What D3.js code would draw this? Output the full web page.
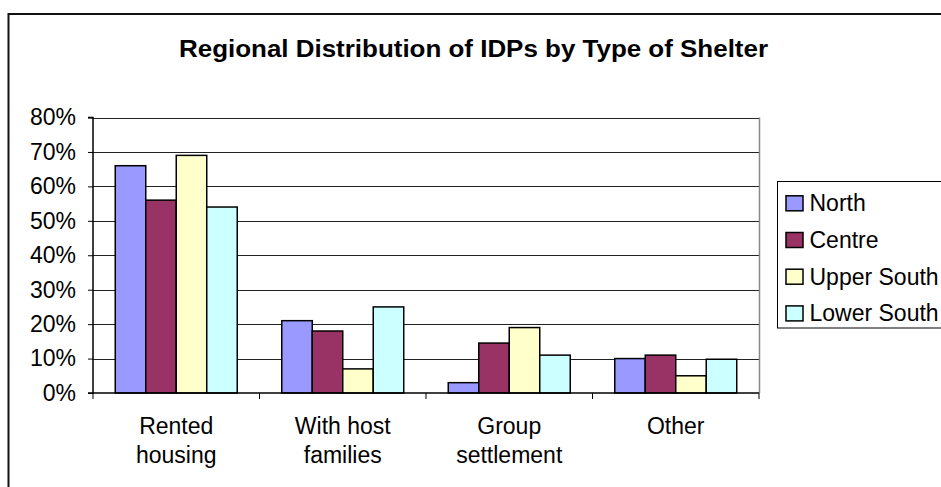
<!DOCTYPE html>
<html>
<head>
<meta charset="utf-8">
<script src="https://cdn.jsdelivr.net/npm/d3@7"></script>
<style>
  body { margin: 0; background: #fff; }
  text { font-family: "Liberation Sans", Arial, sans-serif; }
</style>
</head>
<body>
<svg id="chart"></svg>
<script>
// categories (two lines each) and regions
var categories = ["Rented housing", "With host families", "Group settlement", "Other"];
var categoryLines = [["Rented", "housing"], ["With host", "families"], ["Group", "settlement"], ["Other"]];
var regions = ["North", "Centre", "Upper South", "Lower South"];
var colors = ["#9999FF", "#993366", "#FFFFCC", "#CCFFFF"];

// values in percent, one array per region
var north = [66, 21, 3, 10];
var centre = [56, 18, 14.5, 11];
var upperSouth = [69, 7, 19, 5];
var lowerSouth = [54, 25, 11, 9.8];
var yTicks = [0, 10, 20, 30, 40, 50, 60, 70, 80];

function init(){
    var series = [north, centre, upperSouth, lowerSouth];

    var W = 941, H = 487;
    var plot = {left: 93, right: 759, top: 117.5, bottom: 393};
    var fs = "23px";

    var svg = d3.select("#chart")
        .attr("width", W)
        .attr("height", H);

    // outer frame (runs off right and bottom)
    svg.append("rect")
        .attr("x", 8.5).attr("y", 14)
        .attr("width", W + 20).attr("height", H + 20)
        .attr("fill", "none").attr("stroke", "#111").attr("stroke-width", 2);

    // title - stretched a bit wide like the original
    svg.append("text")
        .attr("x", 179).attr("y", 57)
        .attr("font-size", "23px").attr("font-weight", "bold")
        .attr("textLength", 589).attr("lengthAdjust", "spacingAndGlyphs")
        .text("Regional Distribution of IDPs by Type of Shelter");

    // scales
    var x = d3.scaleBand()
        .domain(categories)
        .range([plot.left, plot.right])
        .paddingInner(0).paddingOuter(0);

    var xInner = d3.scaleBand()
        .domain(regions)
        .range([0, x.bandwidth()])
        .paddingOuter(0.73)
        .paddingInner(0);

    var y = d3.scaleLinear()
        .domain([0, 80])
        .range([plot.bottom, plot.top]);

    // gridlines
    svg.append("g").selectAll("line")
        .data(yTicks.slice(1))
        .enter().append("line")
        .attr("x1", plot.left).attr("x2", plot.right)
        .attr("y1", function(d){ return Math.round(y(d)) + 0.5; })
        .attr("y2", function(d){ return Math.round(y(d)) + 0.5; })
        .attr("stroke", "#222").attr("stroke-width", 1);

    // plot area right border
    svg.append("line")
        .attr("x1", plot.right + 0.5).attr("x2", plot.right + 0.5)
        .attr("y1", plot.top).attr("y2", plot.bottom)
        .attr("stroke", "#888").attr("stroke-width", 1.5);

    // bars
    var groups = svg.append("g").selectAll("g")
        .data(categories)
        .enter().append("g")
        .attr("transform", function(d){ return "translate(" + x(d) + ",0)"; });

    groups.selectAll("rect")
        .data(function(d, i){
            return regions.map(function(r, j){ return {region: r, value: series[j][i], j: j}; });
        })
        .enter().append("rect")
        .attr("x", function(d){ return xInner(d.region); })
        .attr("y", function(d){ return y(d.value); })
        .attr("width", xInner.bandwidth())
        .attr("height", function(d){ return y(0) - y(d.value); })
        .attr("fill", function(d){ return colors[d.j]; })
        .attr("stroke", "#000").attr("stroke-width", 1.5);

    // y axis
    var yAxis = svg.append("g")
        .attr("transform", "translate(" + plot.left + ",0)")
        .call(d3.axisLeft(y).tickValues(yTicks).tickSize(5).tickPadding(12)
            .tickFormat(function(d){ return d + "%"; }));
    yAxis.selectAll("text").attr("font-size", fs).attr("fill", "#000")
        .style("font-family", "'Liberation Sans', Arial, sans-serif");
    yAxis.selectAll("line,path").attr("stroke", "#000");
    yAxis.select("path").attr("d", "M-5," + (plot.top) + "H0V" + plot.bottom + "H-5")
        .attr("stroke-width", 1.5);

    // x axis (ticks at category boundaries)
    var xAxis = svg.append("g");
    xAxis.append("line")
        .attr("x1", plot.left).attr("x2", plot.right)
        .attr("y1", plot.bottom).attr("y2", plot.bottom)
        .attr("stroke", "#000").attr("stroke-width", 1.5);
    xAxis.selectAll(".tick")
        .data(categories.concat(["end"]))
        .enter().append("line")
        .attr("x1", function(d, i){ return i < categories.length ? x(d) : plot.right; })
        .attr("x2", function(d, i){ return i < categories.length ? x(d) : plot.right; })
        .attr("y1", plot.bottom).attr("y2", plot.bottom + 6)
        .attr("stroke", "#000").attr("stroke-width", 1);

    // category labels
    var labels = svg.append("g").selectAll("text")
        .data(categories)
        .enter().append("text")
        .attr("text-anchor", "middle")
        .attr("font-size", fs)
        .attr("x", function(d){ return x(d) + x.bandwidth() / 2; })
        .attr("y", 434);
    labels.selectAll("tspan")
        .data(function(d, i){ return categoryLines[i]; })
        .enter().append("tspan")
        .attr("x", function(){ return this.parentNode.getAttribute("x"); })
        .attr("dy", function(d, i){ return i === 0 ? 0 : 29; })
        .text(function(d){ return d; });

    // legend
    var legend = svg.append("g");
    legend.append("rect")
        .attr("x", 777.5).attr("y", 181.5)
        .attr("width", 200).attr("height", 146.5)
        .attr("fill", "#fff").attr("stroke", "#000").attr("stroke-width", 1);
    var items = legend.selectAll(".item")
        .data(regions)
        .enter().append("g")
        .attr("transform", function(d, i){ return "translate(786," + (203.3 + i * 36.7) + ")"; });
    items.append("rect")
        .attr("x", 0).attr("y", -7.5)
        .attr("width", 17).attr("height", 15)
        .attr("fill", function(d, i){ return colors[i]; })
        .attr("stroke", "#000").attr("stroke-width", 1.5);
    items.append("text")
        .attr("x", 23.5).attr("y", 8)
        .attr("font-size", fs)
        .text(function(d){ return d; });
}
window.onload = init;
</script>
</body>
</html>
